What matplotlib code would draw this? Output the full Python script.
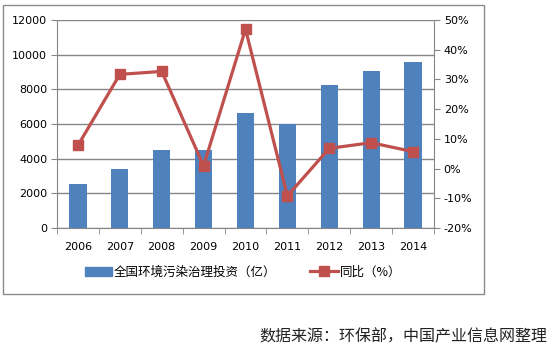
import matplotlib
matplotlib.use("Agg")
import matplotlib.pyplot as plt
from matplotlib.patches import Rectangle
from matplotlib.lines import Line2D
import numpy as np

plt.rcParams['font.family'] = ['Noto Sans CJK SC', 'DejaVu Sans']

years = ["2006", "2007", "2008", "2009", "2010", "2011", "2012", "2013", "2014"]
investment = [2566, 3388, 4490, 4525, 6654, 6026, 8254, 9037, 9576]
growth = [7.8, 31.7, 32.7, 0.9, 46.9, -9.2, 6.8, 8.7, 5.7]
left_ticks = [0, 2000, 4000, 6000, 8000, 10000, 12000]
right_ticks = [-20, -10, 0, 10, 20, 30, 40, 50]
bar_label = "全国环境污染治理投资（亿）"
line_label = "同比（%）"
source = "数据来源：环保部，中国产业信息网整理"

bar_color = "#4F81BD"
line_color = "#C0504D"
axis_gray = "#868686"

W, H = 548, 353
fig = plt.figure(figsize=(W / 100, H / 100), dpi=100)
fig.patch.set_facecolor("white")

# chart border
border = Rectangle((3 / W, 1 - 294 / H), (484 - 3) / W, (294 - 5) / H,
                   transform=fig.transFigure, fill=False, edgecolor="#8c8c8c", linewidth=1.0)
fig.add_artist(border)

x0, x1, y0, y1 = 57, 434, 20, 228
ax = fig.add_axes([x0 / W, 1 - y1 / H, (x1 - x0) / W, (y1 - y0) / H])
x = np.arange(len(years))
ax.bar(x, investment, width=0.41, color=bar_color, zorder=2)
ax.set_xlim(-0.5, len(years) - 0.5)
ax.set_ylim(0, 12000)
ax.set_yticks(left_ticks)
ax.set_yticklabels([str(v) for v in left_ticks], family="DejaVu Sans", fontsize=8)
ax.yaxis.grid(True, color=axis_gray, linewidth=1.0, zorder=0)
ax.set_axisbelow(True)
ax.set_xticks(x)
ax.set_xticklabels(years, family="DejaVu Sans", fontsize=8)
ax.set_xticks(np.arange(-0.5, len(years)), minor=True)
ax.tick_params(axis="x", which="major", length=0, pad=10)
ax.tick_params(axis="x", which="minor", length=4, color=axis_gray, direction="out")
ax.tick_params(axis="y", length=4, color=axis_gray, direction="out", pad=3)
for s in ["top", "right"]:
    ax.spines[s].set_visible(False)
for s in ["left", "bottom"]:
    ax.spines[s].set_color(axis_gray)

ax2 = ax.twinx()
ax2.plot(x, growth, color=line_color, linewidth=2.3, marker="s", markersize=7.5,
         markerfacecolor=line_color, markeredgecolor=line_color, zorder=3)
ax2.set_ylim(-20, 50)
ax2.set_yticks(right_ticks)
ax2.set_yticklabels([f"{v}%" for v in right_ticks], family="DejaVu Sans", fontsize=8)
ax2.tick_params(axis="y", length=4, color=axis_gray, direction="out", pad=3)
for s in ["top", "left", "bottom"]:
    ax2.spines[s].set_visible(False)
ax2.spines["right"].set_color(axis_gray)

# legend
handles = [Rectangle((0, 0), 1, 1, color=bar_color),
           Line2D([0], [0], color=line_color, linewidth=2.3, marker="s", markersize=7.5)]
leg = fig.legend(handles, [bar_label, line_label], loc="center",
                 bbox_to_anchor=(243 / W, 1 - 272 / H), ncol=2, frameon=False,
                 fontsize=9, handlelength=2.2, handletextpad=0.15, columnspacing=2.7)

fig.text(547 / W, 1 - 337 / H, source, ha="right", va="center", fontsize=11.5, color="#222222")

fig.savefig("out.png", dpi=100)
